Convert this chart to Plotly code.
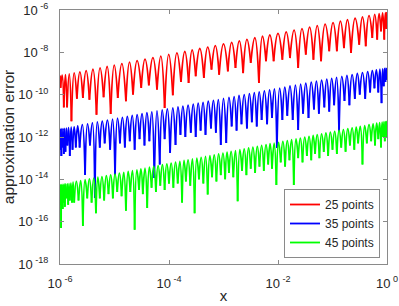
import plotly.graph_objects as go

# ---------------- data (log10 values) ----------------
# x-positions (log10 x) of the dips, dip depths (log10 error), and lobe peaks (log10 error)
red_dip_x = [-5.99, -5.93, -5.87, -5.79, -5.69, -5.58, -5.46, -5.33, -5.20, -5.07,
             -4.94, -4.79, -4.66, -4.51, -4.37, -4.22, -4.08, -3.93, -3.78, -3.64,
             -3.51, -3.36, -3.22, -3.08, -2.92, -2.78, -2.64, -2.50, -2.35, -2.22,
             -2.08, -1.92, -1.78, -1.63, -1.49, -1.35, -1.21, -1.06, -0.92, -0.79,
             -0.66, -0.51, -0.39, -0.27, -0.18, -0.11, -0.05, -0.01]
red_dip_y = [-9.68, -10.60, -10.60, -11.26, -10.19, -10.16, -10.24, -10.95, -10.12, -10.91,
             -10.16, -10.31, -10.00, -9.68, -9.56, -9.76, -10.63, -10.03, -9.40, -9.45,
             -9.13, -9.21, -8.82, -9.06, -8.90, -8.74, -8.98, -8.50, -9.45, -8.42,
             -8.42, -8.35, -8.27, -8.74, -8.11, -8.35, -8.42, -7.95, -7.95, -7.80,
             -8.03, -7.64, -7.71, -7.32, -7.40, -7.01, -7.40, -6.90]
red_peak_y = [-9.08, -9.05, -9.02, -8.97, -8.92, -8.86, -8.80, -8.73, -8.67, -8.60,
              -8.53, -8.46, -8.39, -8.32, -8.25, -8.18, -8.10, -8.03, -7.96, -7.89,
              -7.82, -7.75, -7.68, -7.60, -7.53, -7.46, -7.39, -7.31, -7.24, -7.18,
              -7.10, -7.03, -6.95, -6.88, -6.81, -6.74, -6.67, -6.60, -6.53, -6.46,
              -6.39, -6.33, -6.27, -6.21, -6.17, -6.14, -6.12]
red_ends = [-9.10, -6.10]

blue_dip_x = [-5.99, -5.975, -5.955, -5.93, -5.90, -5.865, -5.82, -5.77, -5.71,
              -5.64, -5.54, -5.45, -5.36, -5.27, -5.18, -5.08, -4.99, -4.90, -4.81,
              -4.72, -4.63, -4.54, -4.45, -4.36, -4.27, -4.17, -4.08, -3.98, -3.88,
              -3.79, -3.70, -3.60, -3.51, -3.42, -3.33, -3.23, -3.14, -3.05, -2.95,
              -2.85, -2.76, -2.67, -2.57, -2.48, -2.39, -2.30, -2.20, -2.11, -2.02,
              -1.92, -1.83, -1.73, -1.63, -1.54, -1.44, -1.34, -1.25, -1.15, -1.06,
              -0.97, -0.88, -0.78, -0.69, -0.59, -0.50, -0.40, -0.31, -0.23, -0.16,
              -0.10, -0.06, -0.03, -0.01]
blue_dip_y = [-12.6, -12.9, -12.5, -12.8, -12.7, -12.4, -12.9, -12.6, -12.5,
              -12.5, -13.8, -12.4, -14.88, -12.5, -12.3, -12.6, -13.8, -12.3, -12.5,
              -12.2, -12.6, -12.1, -12.4, -12.2, -13.94, -13.3, -12.1, -12.75, -12.38,
              -11.9, -12.0, -11.8, -12.0, -11.7, -11.9, -11.6, -11.8, -12.38, -12.28,
              -11.5, -11.7, -11.4, -11.6, -11.3, -11.5, -11.2, -11.4, -11.1, -12.52,
              -11.2, -11.0, -11.2, -11.67, -10.9, -11.1, -10.7, -10.9, -10.6, -10.8,
              -10.5, -11.73, -10.3, -10.5, -10.2, -10.0, -10.2, -9.9, -9.7, -9.9,
              -10.4, -9.6, -9.4, -9.3]
blue_peak_y = [-11.61, -11.60, -11.60, -11.59, -11.58, -11.56, -11.54, -11.52, -11.48,
               -11.42, -11.38, -11.33, -11.29, -11.25, -11.20, -11.16, -11.11, -11.07, -11.03,
               -10.98, -10.94, -10.90, -10.85, -10.81, -10.77, -10.72, -10.67, -10.63, -10.58,
               -10.54, -10.49, -10.45, -10.40, -10.36, -10.31, -10.27, -10.23, -10.18, -10.13,
               -10.09, -10.04, -10.00, -9.95, -9.91, -9.87, -9.82, -9.77, -9.73, -9.69,
               -9.64, -9.59, -9.55, -9.50, -9.46, -9.41, -9.36, -9.32, -9.27, -9.23,
               -9.18, -9.14, -9.09, -9.05, -9.00, -8.96, -8.91, -8.87, -8.83, -8.80,
               -8.78, -8.76, -8.75]
blue_ends = [-11.62, -8.74]

green_dip_x = [-5.99, -5.98, -5.97, -5.95, -5.93, -5.91, -5.88, -5.85, -5.82, -5.78,
               -5.74, -5.66, -5.58, -5.50, -5.42, -5.34, -5.27, -5.19, -5.11, -5.03,
               -4.95, -4.87, -4.79, -4.71, -4.63, -4.55, -4.48, -4.40, -4.32, -4.24,
               -4.16, -4.08, -4.00, -3.92, -3.84, -3.76, -3.69, -3.61, -3.53, -3.45,
               -3.37, -3.29, -3.21, -3.13, -3.05, -2.97, -2.90, -2.82, -2.74, -2.66,
               -2.58, -2.50, -2.42, -2.34, -2.26, -2.18, -2.11, -2.03, -1.95, -1.87,
               -1.79, -1.71, -1.63, -1.55, -1.47, -1.39, -1.32, -1.24, -1.16, -1.08,
               -1.00, -0.92, -0.84, -0.76, -0.68, -0.60, -0.53, -0.45, -0.37, -0.29,
               -0.22, -0.16, -0.11, -0.07, -0.04, -0.02, -0.01]
green_dip_y = [-15.2, -16.3, -15.0, -15.4, -15.1, -15.3, -14.9, -15.2, -15.0, -15.1,
               -15.1, -15.0, -16.2, -14.9, -15.1, -15.6, -14.9, -15.0, -14.7, -14.9,
               -14.6, -14.8, -15.48, -14.6, -16.38, -14.5, -14.7, -15.35, -14.4, -14.6,
               -14.3, -14.5, -14.2, -14.4, -14.2, -15.1, -14.1, -14.3, -15.6, -14.0,
               -14.2, -14.72, -13.9, -14.1, -13.8, -14.0, -13.7, -13.9, -15.04, -13.6,
               -13.8, -13.5, -13.7, -13.4, -13.6, -13.3, -13.5, -14.27, -13.2, -13.4,
               -13.1, -14.27, -13.0, -13.2, -12.9, -13.1, -12.8, -13.0, -12.7, -12.9,
               -12.6, -12.8, -12.5, -12.7, -12.4, -12.6, -12.3, -13.3, -12.3, -12.2,
               -12.4, -12.1, -12.5, -12.0, -12.2, -11.9, -12.0]
green_peak_y = [-14.25, -14.25, -14.24, -14.24, -14.23, -14.22, -14.21, -14.20, -14.18, -14.13,
                -14.10, -14.06, -14.02, -13.98, -13.94, -13.90, -13.87, -13.83, -13.79, -13.75,
                -13.71, -13.67, -13.63, -13.59, -13.55, -13.51, -13.47, -13.43, -13.39, -13.35,
                -13.31, -13.27, -13.23, -13.19, -13.15, -13.11, -13.08, -13.04, -13.00, -12.96,
                -12.92, -12.88, -12.84, -12.80, -12.76, -12.72, -12.68, -12.64, -12.60, -12.56,
                -12.52, -12.48, -12.44, -12.40, -12.36, -12.32, -12.29, -12.25, -12.21, -12.17,
                -12.13, -12.09, -12.05, -12.01, -11.97, -11.93, -11.89, -11.85, -11.81, -11.77,
                -11.73, -11.69, -11.65, -11.61, -11.57, -11.53, -11.50, -11.46, -11.42, -11.38,
                -11.35, -11.32, -11.30, -11.28, -11.27, -11.26]
green_ends = [-14.25, -11.26]

series_names = ["25 points", "35 points", "45 points"]
series_colors = ["#ff0000", "#0000ff", "#00ff00"]

x_tick_exp = [-6, -4, -2, 0]
y_tick_exp = [-18, -16, -14, -12, -10, -8, -6]


def build(dip_x, dip_y, peak_y, ends):
    """Each lobe is dip -> peak -> dip, drawn as its own spline piece (gaps split pieces)."""
    xs, ys = [], []
    xs += [1e-6, 10 ** dip_x[0], None]
    ys += [10 ** ends[0], 10 ** dip_y[0], None]
    for i, pk in enumerate(peak_y):
        xa, xb = dip_x[i], dip_x[i + 1]
        xs += [10 ** xa, 10 ** ((xa + xb) / 2), 10 ** xb, None]
        ys += [10 ** dip_y[i], 10 ** pk, 10 ** dip_y[i + 1], None]
    xs += [10 ** dip_x[-1], 1.0]
    ys += [10 ** dip_y[-1], 10 ** ends[1]]
    return xs, ys


fig = go.Figure()
for (dx, dy, py, en), name, col in zip(
        [(red_dip_x, red_dip_y, red_peak_y, red_ends),
         (blue_dip_x, blue_dip_y, blue_peak_y, blue_ends),
         (green_dip_x, green_dip_y, green_peak_y, green_ends)],
        series_names, series_colors):
    xs, ys = build(dx, dy, py, en)
    fig.add_trace(go.Scatter(x=xs, y=ys, mode="lines", name=name,
                             line=dict(color=col, width=1.8, shape="spline", smoothing=1.3),
                             connectgaps=False))

axis_col = "#8a8a8a"
txt_col = "#262626"
font_fam = "Liberation Sans, Arial, Helvetica, sans-serif"

fig.update_layout(
    width=399, height=306,
    margin=dict(l=60, r=12, t=10, b=42),
    paper_bgcolor="white", plot_bgcolor="white",
    font=dict(family=font_fam, color=txt_col, size=13),
    showlegend=True,
    legend=dict(x=0.9786, xanchor="right", y=0.0236, yanchor="bottom",
                bgcolor="white", bordercolor=axis_col, borderwidth=1,
                font=dict(size=12, color=txt_col), tracegroupgap=0, itemwidth=30),
    xaxis=dict(type="log", range=[-6, 0], automargin=False,
               tickvals=[10 ** e for e in x_tick_exp],
               ticktext=["10<sup> %d</sup>" % e for e in x_tick_exp],
               ticks="inside", ticklen=4, tickcolor=axis_col,
               showline=True, linecolor=axis_col, linewidth=1, mirror="ticks",
               showgrid=False, zeroline=False, ticklabelstandoff=7,
               ticklabeloverflow="allow",
               tickfont=dict(size=13, color=txt_col),
               title=dict(text="x", font=dict(size=15, color=txt_col), standoff=0)),
    yaxis=dict(type="log", range=[-18, -6], automargin=False,
               tickvals=[10 ** e for e in y_tick_exp],
               ticktext=["10<sup> %d</sup>" % e for e in y_tick_exp],
               ticks="inside", ticklen=4, tickcolor=axis_col,
               showline=True, linecolor=axis_col, linewidth=1, mirror="ticks",
               showgrid=False, zeroline=False, ticklabelstandoff=8,
               ticklabeloverflow="allow",
               tickfont=dict(size=13, color=txt_col),
               title=dict(text="approximation error", font=dict(size=15.5, color=txt_col), standoff=2)),
)

# the page is photographed at the window's top-left, so drop the default body margin
fig.write_html("out.html", config={"displayModeBar": False},
               post_script="document.body.style.margin='0px';")
